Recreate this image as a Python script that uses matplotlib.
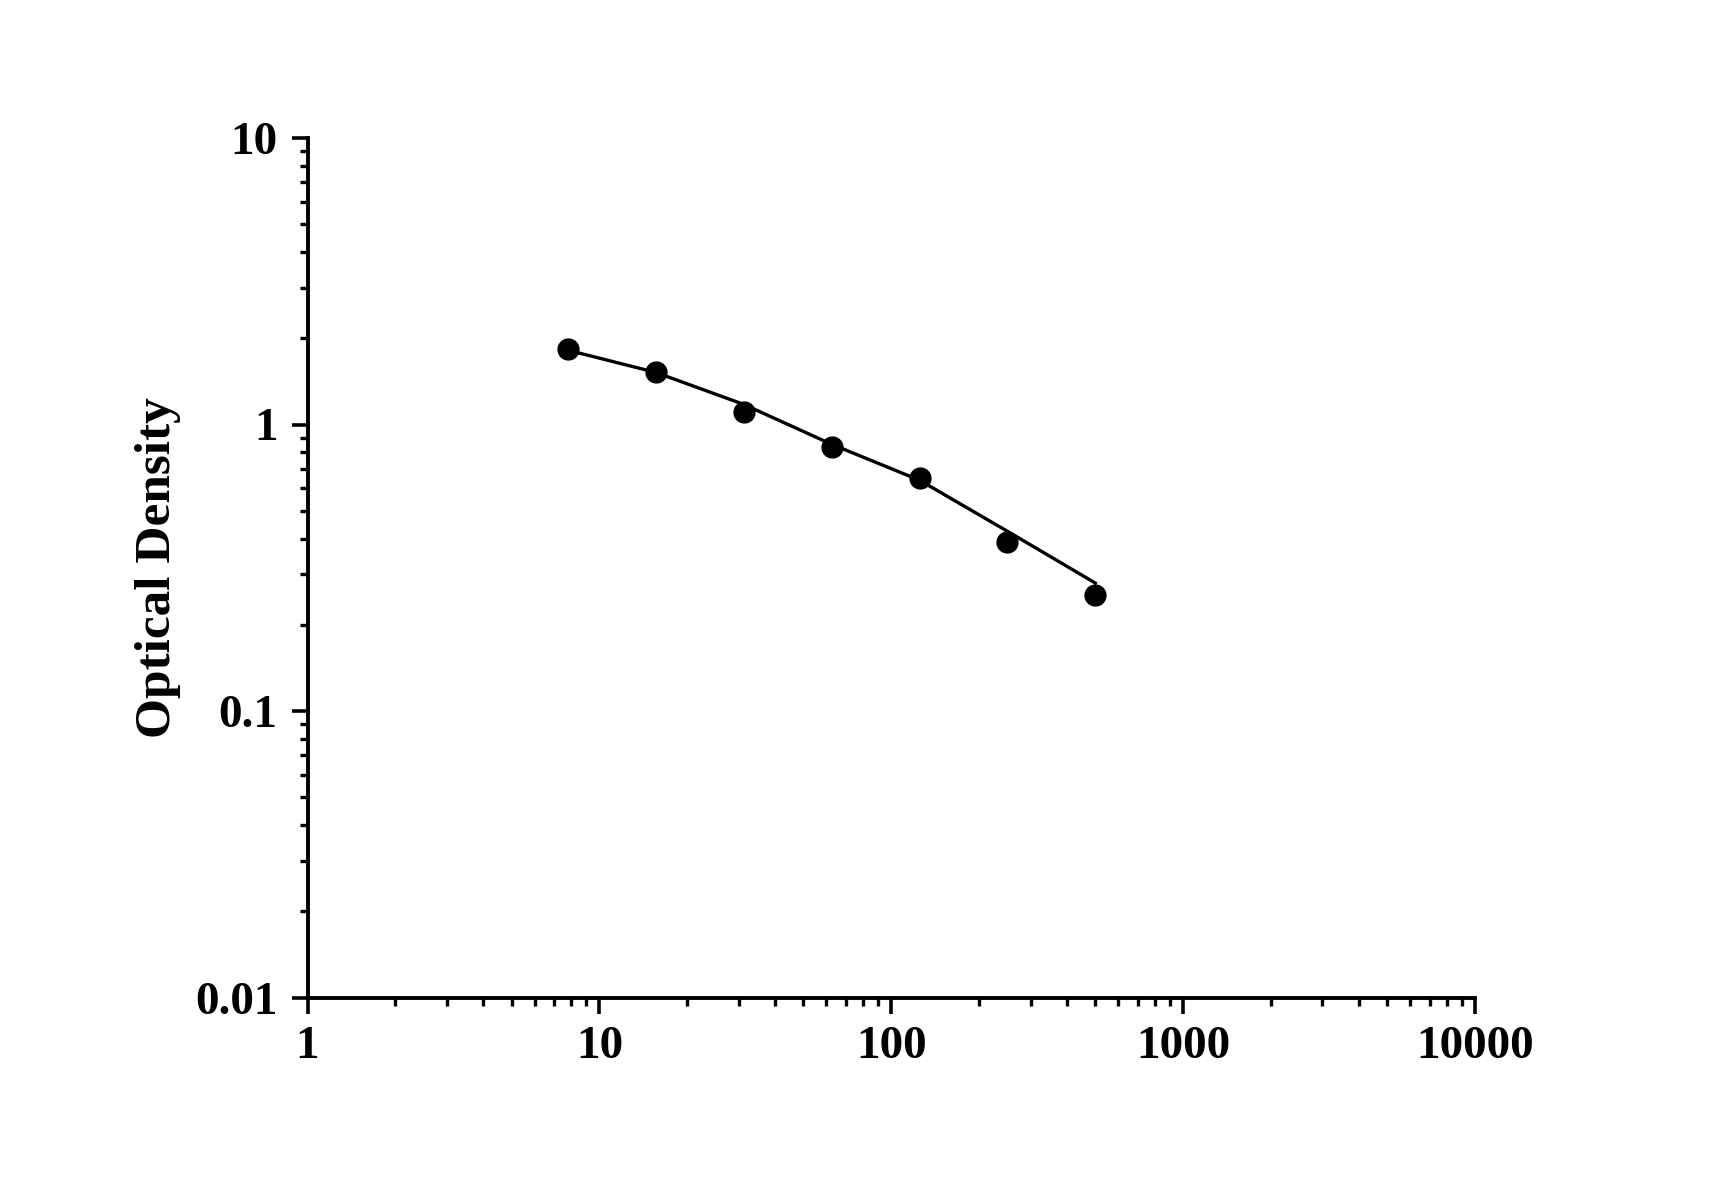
import matplotlib
matplotlib.use("Agg")
import matplotlib.pyplot as plt
from matplotlib.ticker import LogLocator, NullFormatter, FixedFormatter, FixedLocator

# standard concentrations and measured OD
conc = [7.8, 15.6, 31.25, 62.5, 125, 250, 500]
od = [1.832, 1.527, 1.104, 0.833, 0.651, 0.388, 0.2535]
fit_od = [1.817, 1.52, 1.175, 0.853, 0.639, 0.424, 0.2797]

x_ticks = [1, 10, 100, 1000, 10000]
x_labels = ["1", "10", "100", "1000", "10000"]
y_ticks = [0.01, 0.1, 1, 10]
y_labels = ["0.01", "0.1", "1", "10"]

plt.rcParams["font.family"] = ["Liberation Serif", "DejaVu Serif"]
plt.rcParams["font.weight"] = "bold"

fig = plt.figure(figsize=(17.12, 11.96), dpi=100)
ax = fig.add_axes([307.5 / 1712, 1 - 997.5 / 1196, (1475 - 307.5) / 1712, (997.5 - 138) / 1196])

ax.plot(conc, fit_od, color="black", lw=2.4, zorder=2)
ax.plot(conc, od, "o", color="black", markersize=15, zorder=3)

ax.set_xscale("log")
ax.set_yscale("log")
ax.set_xlim(1, 10000)
ax.set_ylim(0.01, 10)

ax.xaxis.set_major_locator(FixedLocator(x_ticks))
ax.xaxis.set_major_formatter(FixedFormatter(x_labels))
ax.yaxis.set_major_locator(FixedLocator(y_ticks))
ax.yaxis.set_major_formatter(FixedFormatter(y_labels))
ax.xaxis.set_minor_locator(LogLocator(base=10, subs=range(2, 10), numticks=20))
ax.yaxis.set_minor_locator(LogLocator(base=10, subs=range(2, 10), numticks=20))
ax.xaxis.set_minor_formatter(NullFormatter())
ax.yaxis.set_minor_formatter(NullFormatter())

for s in ["top", "right"]:
    ax.spines[s].set_visible(False)
for s in ["left", "bottom"]:
    ax.spines[s].set_linewidth(2.8)
    ax.spines[s].set_capstyle("projecting")

ax.tick_params(which="major", direction="out", length=11.5, width=2.6, labelsize=34)
ax.tick_params(which="minor", direction="out", length=5.5, width=2.4)
ax.tick_params(axis="x", which="major", pad=9)
ax.tick_params(axis="y", which="major", pad=10)

ax.set_ylabel("Optical Density", fontsize=37, fontweight="bold", labelpad=10)

fig.savefig("out.png", dpi=100, facecolor="white")
